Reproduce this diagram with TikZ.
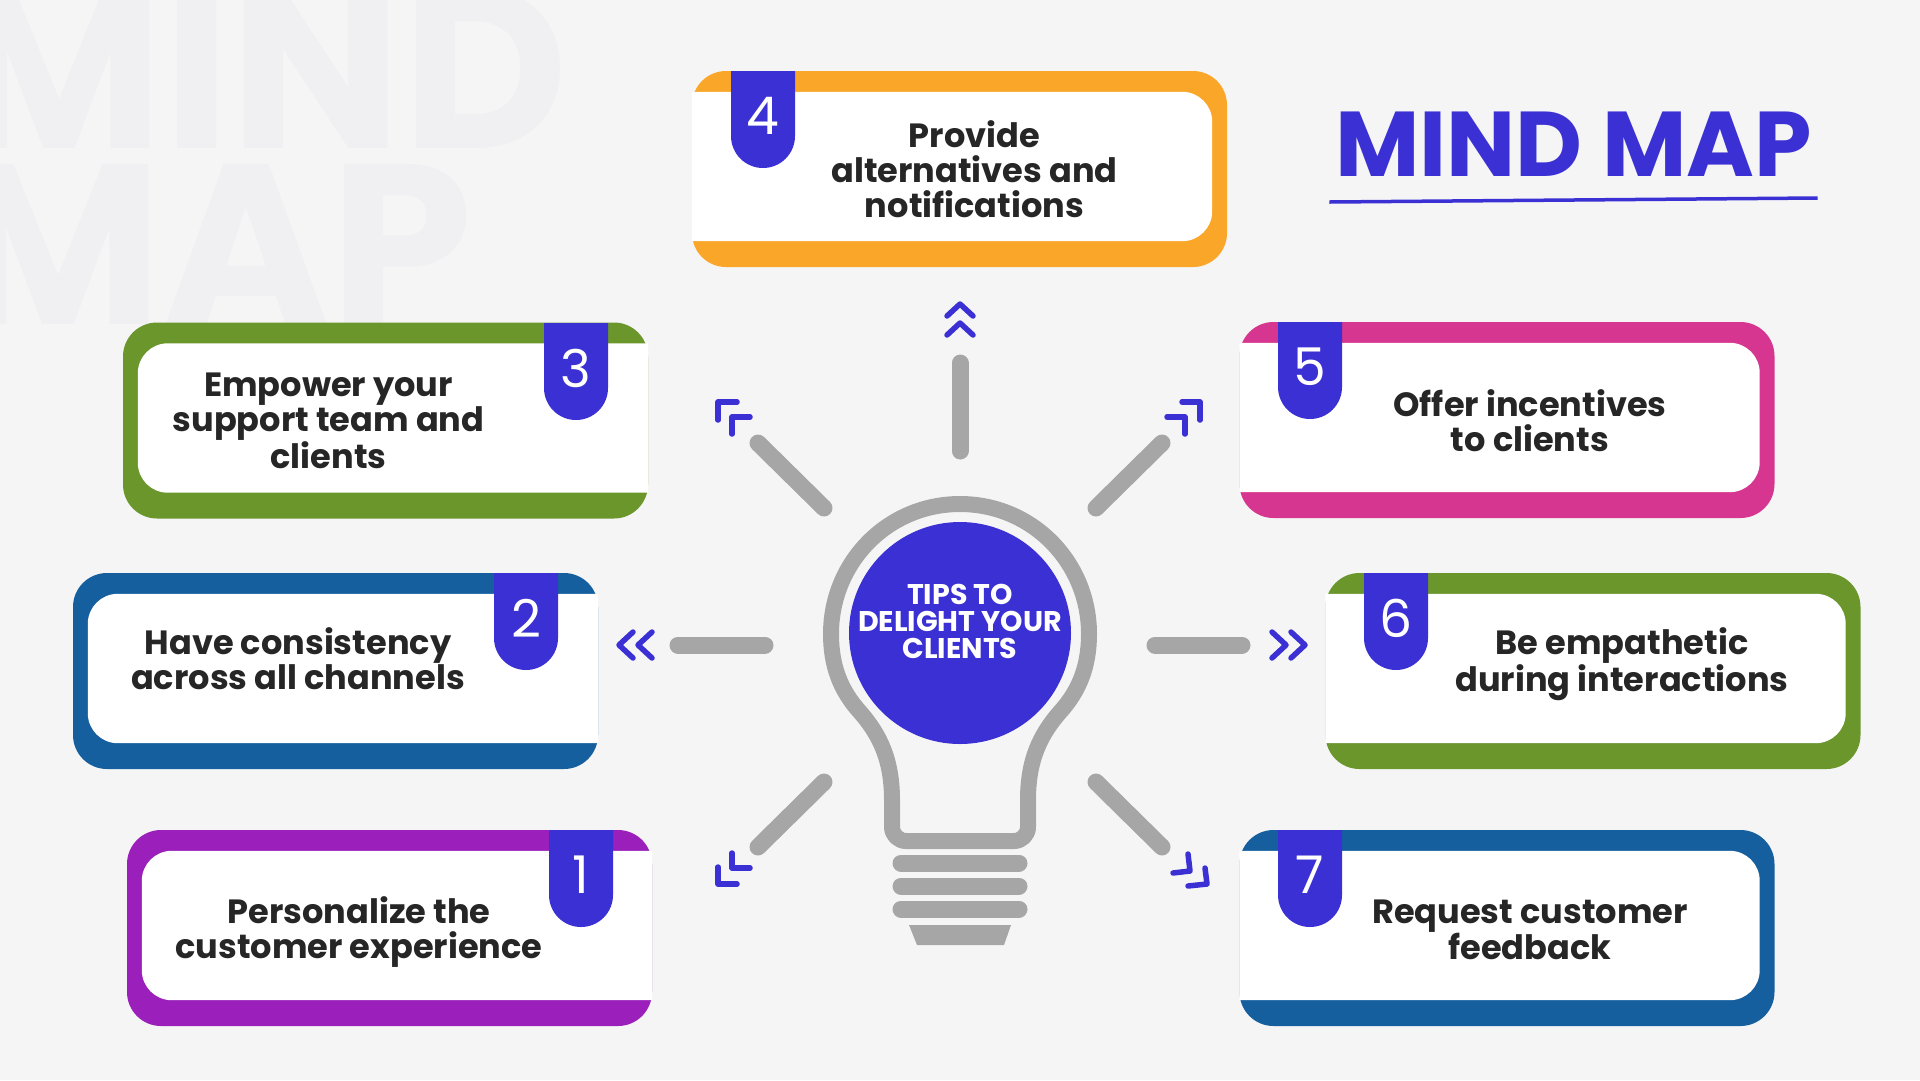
\documentclass[tikz,border=0pt]{standalone}
\usepackage{fontspec}
\setmainfont{Poppins}
\usetikzlibrary{positioning,calc}
\definecolor{pagegrey}{HTML}{F5F5F5}
\definecolor{ghost}{HTML}{F0F0F2}
\definecolor{inkblue}{HTML}{3B30D3}
\definecolor{bulbgrey}{HTML}{A6A6A6}
\definecolor{inkdark}{HTML}{262626}
\definecolor{cardorange}{HTML}{FAA629}
\definecolor{cardgreen}{HTML}{6A962B}
\definecolor{cardblue}{HTML}{155F9F}
\definecolor{cardpink}{HTML}{D6368F}
\definecolor{cardpurple}{HTML}{9A1FBB}
\tikzset{
  cardbox/.style={rectangle, rounded corners=34pt, minimum height=196pt, minimum width=535pt, inner sep=0pt},
  cardnarrow/.style={cardbox, minimum width=525pt},
  cardtext/.style={font=\fontsize{33.6}{35}\selectfont\bfseries, text=inkdark, align=center, inner sep=0pt},
  tabnum/.style={font=\fontsize{52}{52}\selectfont, text=white, inner sep=0pt},
  ghosttext/.style={font=\fontsize{228}{228}\selectfont\bfseries, text=ghost, inner sep=0pt},
  hubcircle/.style={circle, fill=inkblue, minimum size=222pt, inner sep=0pt},
  hubtext/.style={font=\fontsize{28.5}{27}\selectfont\bfseries, text=white, align=center, inner sep=0pt},
  bulbline/.style={draw=bulbgrey, line width=16pt, line join=round},
  ray/.style={draw=bulbgrey, line width=17pt, line cap=round},
  screw/.style={draw=bulbgrey, line width=17pt, line cap=round},
  chevron/.style={draw=inkblue, line width=5.5pt, line cap=round, line join=round},
}
% white panel, open on the left or on the right side of a card
\newcommand{\panelopenleft}[1]{
  \fill[white] ($(#1.north west)+(0,21)$) {[rounded corners=30pt] -- ($(#1.north east)+(-15,21)$) -- ($(#1.south east)+(-15,-26)$)} -- ($(#1.south west)+(0,-26)$) -- cycle;
}
\newcommand{\panelopenright}[1]{
  \fill[white] ($(#1.north east)+(0,21)$) {[rounded corners=30pt] -- ($(#1.north west)+(15,21)$) -- ($(#1.south west)+(15,-26)$)} -- ($(#1.south east)+(0,-26)$) -- cycle;
}
% number tab: left edge, top edge, number
\newcommand{\numtab}[3]{
  \fill[inkblue] (#1,#2) {[rounded corners=32pt] -- (#1,#2+97) -- (#1+64,#2+97)} -- (#1+64,#2) -- cycle;
  \node[tabnum] (tab#3) at (#1+32,#2+45) {#3};
}
\begin{document}
\begin{tikzpicture}[x=1pt,y=-1pt]
  \fill[pagegrey] (0,0) rectangle (1920,1080);
  \useasboundingbox (0,0) rectangle (1920,1080);
  \begin{scope}
    \clip (0,0) rectangle (1920,1080);
    \node[ghosttext, anchor=base east] (ghost1) at (568,148) {MIND};
    \node[ghosttext, anchor=base east] (ghost2) at (473,324) {MAP};
  \end{scope}

  \node[font=\fontsize{92}{92}\selectfont\bfseries, text=inkblue, anchor=base, inner sep=0pt] (title) at (1573.5,176) {MIND MAP};
  \draw[draw=inkblue, line width=3.5pt] ($(title.base west)+(-5.5,26)$) coordinate (ruleA) -- ($(title.base east)+(5.5,22)$) coordinate (ruleB);

  \node[cardbox, fill=cardorange] (card4) at (959.5,169) {};
  \panelopenleft{card4}
  \numtab{731}{71}{4}
  \node[cardtext] (text4) at (card4) [xshift=15pt, yshift=0pt] {Provide\\alternatives and\\notifications};

  \node[cardnarrow, fill=cardgreen] (card3) at (385.5,420.5) {};
  \panelopenright{card3}
  \numtab{544}{323}{3}
  \node[cardtext] (text3) at (card3) [xshift=-57pt, yshift=0pt] {Empower your\\support team and\\clients};

  \node[cardnarrow, fill=cardblue] (card2) at (335.5,671) {};
  \panelopenright{card2}
  \numtab{494}{573}{2}
  \node[cardtext] (text2) at (card2) [xshift=-37.5pt, yshift=12.5pt] {Have consistency\\across all channels};

  \node[cardnarrow, fill=cardpurple] (card1) at (389.5,928) {};
  \panelopenright{card1}
  \numtab{549}{830}{1}
  \node[cardtext] (text1) at (card1) [xshift=-30.5pt, yshift=-4pt] {Personalize the\\customer experience};

  \node[cardbox, fill=cardpink] (card5) at (1507,420) {};
  \panelopenleft{card5}
  \numtab{1278}{322}{5}
  \node[cardtext] (text5) at (card5) [xshift=23pt, yshift=-1pt] {Offer incentives\\to clients};

  \node[cardbox, fill=cardgreen] (card6) at (1593,671) {};
  \panelopenleft{card6}
  \numtab{1364}{573}{6}
  \node[cardtext] (text6) at (card6) [xshift=29pt, yshift=7pt] {Be empathetic\\during interactions};

  \node[cardbox, fill=cardblue] (card7) at (1507,928) {};
  \panelopenleft{card7}
  \numtab{1278}{830}{7}
  \node[cardtext] (text7) at (card7) [xshift=23pt, yshift=-2pt] {Request customer\\feedback};

  % bulb
  \draw[bulbline] (892,800) .. controls (892,760) and (880,735) .. (860,712)
    .. controls (840,690) and (831,665) .. (831,634)
    .. controls (831,562) and (888,504) .. (960,504)
    .. controls (1032,504) and (1089,562) .. (1089,634)
    .. controls (1089,665) and (1080,690) .. (1060,712)
    .. controls (1040,735) and (1028,760) .. (1028,800)
    {[rounded corners=14pt] -- (1028,841) -- (892,841) -- (892,800)};
  \node[hubcircle] (hub) at (960,633) {};
  \node[hubtext] (hublabel) at (hub) [yshift=12pt] {TIPS TO\\DELIGHT YOUR\\CLIENTS};
  \draw[screw] (901,863) -- (1019,863);
  \draw[screw] (901,886) -- (1019,886);
  \draw[screw] (901,909) -- (1019,909);
  \fill[bulbgrey] (909,925) -- (1011,925) -- (1004,945) -- (917,945) -- cycle;

  % rays
  \draw[ray] (960,451) -- (960,363);
  \draw[ray] (765,645) -- (678,645);
  \draw[ray] (1155,645) -- (1242,645);
  \draw[ray] (824,508) -- (758,443);
  \draw[ray] (1096,508) -- (1162,443);
  \draw[ray] (824,782) -- (758,847);
  \draw[ray] (1096,782) -- (1162,847);

  % chevrons
  \draw[chevron] (947,316) -- (960,304) -- (973,316);
  \draw[chevron] (947,335) -- (960,323) -- (973,335);
  \draw[chevron] (633,632) -- (619,645) -- (633,658);
  \draw[chevron] (652,632) -- (638,645) -- (652,658);
  \draw[chevron] (1272,632) -- (1286,645) -- (1272,658);
  \draw[chevron] (1291,632) -- (1305,645) -- (1291,658);
  \draw[chevron] (737,402) -- (718,402) -- (718,420);
  \draw[chevron] (750,417) -- (732,417) -- (732,434);
  \draw[chevron] (1182,402) -- (1200,402) -- (1200,420);
  \draw[chevron] (1167,417) -- (1185,417) -- (1185,434);
  \draw[chevron] (718,867) -- (718,884) -- (737,884);
  \draw[chevron] (732,853) -- (732,868) -- (750,868);
  \draw[chevron] (1205,868) -- (1207,884) -- (1188,886);
  \draw[chevron] (1188,854) -- (1190,871) -- (1173,873);
\end{tikzpicture}
\end{document}
